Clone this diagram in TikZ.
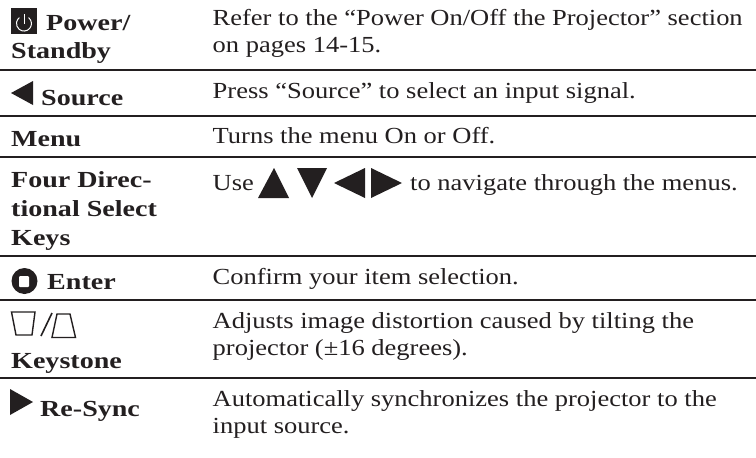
\documentclass[tikz,border=0pt]{standalone}
\usepackage{fontspec}
\setmainfont[FakeStretch=1.152,BoldFeatures={FakeStretch=1.22}]{Liberation Serif}
\definecolor{ink}{HTML}{231F20}
\tikzset{x=1pt,y=-1pt,
 body/.style={anchor=base west,inner sep=0pt,text=ink,font=\fontsize{23}{27}\selectfont},
 head/.style={anchor=base west,inner sep=0pt,text=ink,font=\fontsize{23}{27}\selectfont\bfseries},
 rowrule/.style={draw=ink,line width=1.6pt},
 glyph/.style={fill=ink,draw=none},
 outline/.style={draw=ink,line width=1.4pt,fill=none,line join=miter}}
\begin{document}
\begin{tikzpicture}
\useasboundingbox (0,0) rectangle (756,458);
\fill[white] (0,0) rectangle (756,458);
\foreach \y in {70,116,157,256,300,378}{\draw[rowrule] (0,\y) -- (756,\y);}
% left column
\fill[ink] (11,8) rectangle (37,34);
\draw[white,line width=1pt,line cap=round] (28.8,17.8) arc[start angle=-50,end angle=230,radius=7.5];
\draw[white,line width=1pt] (24,14) -- (24,24);
\node[head] (h1) at (46,30) {Power/};
\node[head] (h1b) at (11,58) {Standby};
\fill[glyph] (11,93) -- (33,81) -- (33,105) -- cycle;
\node[head] (h2) at (41,105) {Source};
\node[head] (h3) at (11,146) {Menu};
\node[head] (h4) at (11,187) {Four Direc-};
\node[head] (h4b) at (11,216) {tional Select};
\node[head] (h4c) at (11,245) {Keys};
\fill[ink] (24.5,281) circle (13);
\fill[white,rounded corners=1pt] (19,276) rectangle (29,287);
\node[head] (h5) at (47,289) {Enter};
\draw[outline] (11.5,312) -- (35,312) -- (32,335) -- (16,335) -- cycle;
\draw[ink,line width=1.6pt] (41,336) -- (52,313);
\draw[outline] (57,314) -- (70,314) -- (75.5,337.5) -- (52,337.5) -- cycle;
\node[head] (h6) at (11,368) {Keystone};
\fill[glyph] (10,389) -- (33,402) -- (10,415) -- cycle;
\node[head] (h7) at (40,416) {Re-Sync};
% right column
\node[body] (b1) at (212.5,25) {Refer to the “Power On/Off the Projector” section};
\node[body] (b1b) at (212.5,52) {on pages 14-15.};
\node[body] (b2) at (212.5,98) {Press “Source” to select an input signal.};
\node[body] (b3) at (212.5,143) {Turns the menu On or Off.};
\node[body] (b4) at (212.5,190) {Use};
\fill[glyph] (258,198) -- (274,168) -- (289,198) -- cycle;
\fill[glyph] (297,168) -- (327,168) -- (312,198) -- cycle;
\fill[glyph] (334,183) -- (365,168) -- (365,198) -- cycle;
\fill[glyph] (371,168) -- (402,183) -- (371,198) -- cycle;
\node[body] (b4b) at (410,190) {to navigate through the menus.};
\node[body] (b5) at (212.5,284) {Confirm your item selection.};
\node[body] (b6) at (212.5,328) {Adjusts image distortion caused by tilting the};
\node[body] (b6b) at (212.5,355) {projector (±16 degrees).};
\node[body] (b7) at (212.5,406) {Automatically synchronizes the projector to the};
\node[body] (b7b) at (212.5,433) {input source.};
\end{tikzpicture}
\end{document}
